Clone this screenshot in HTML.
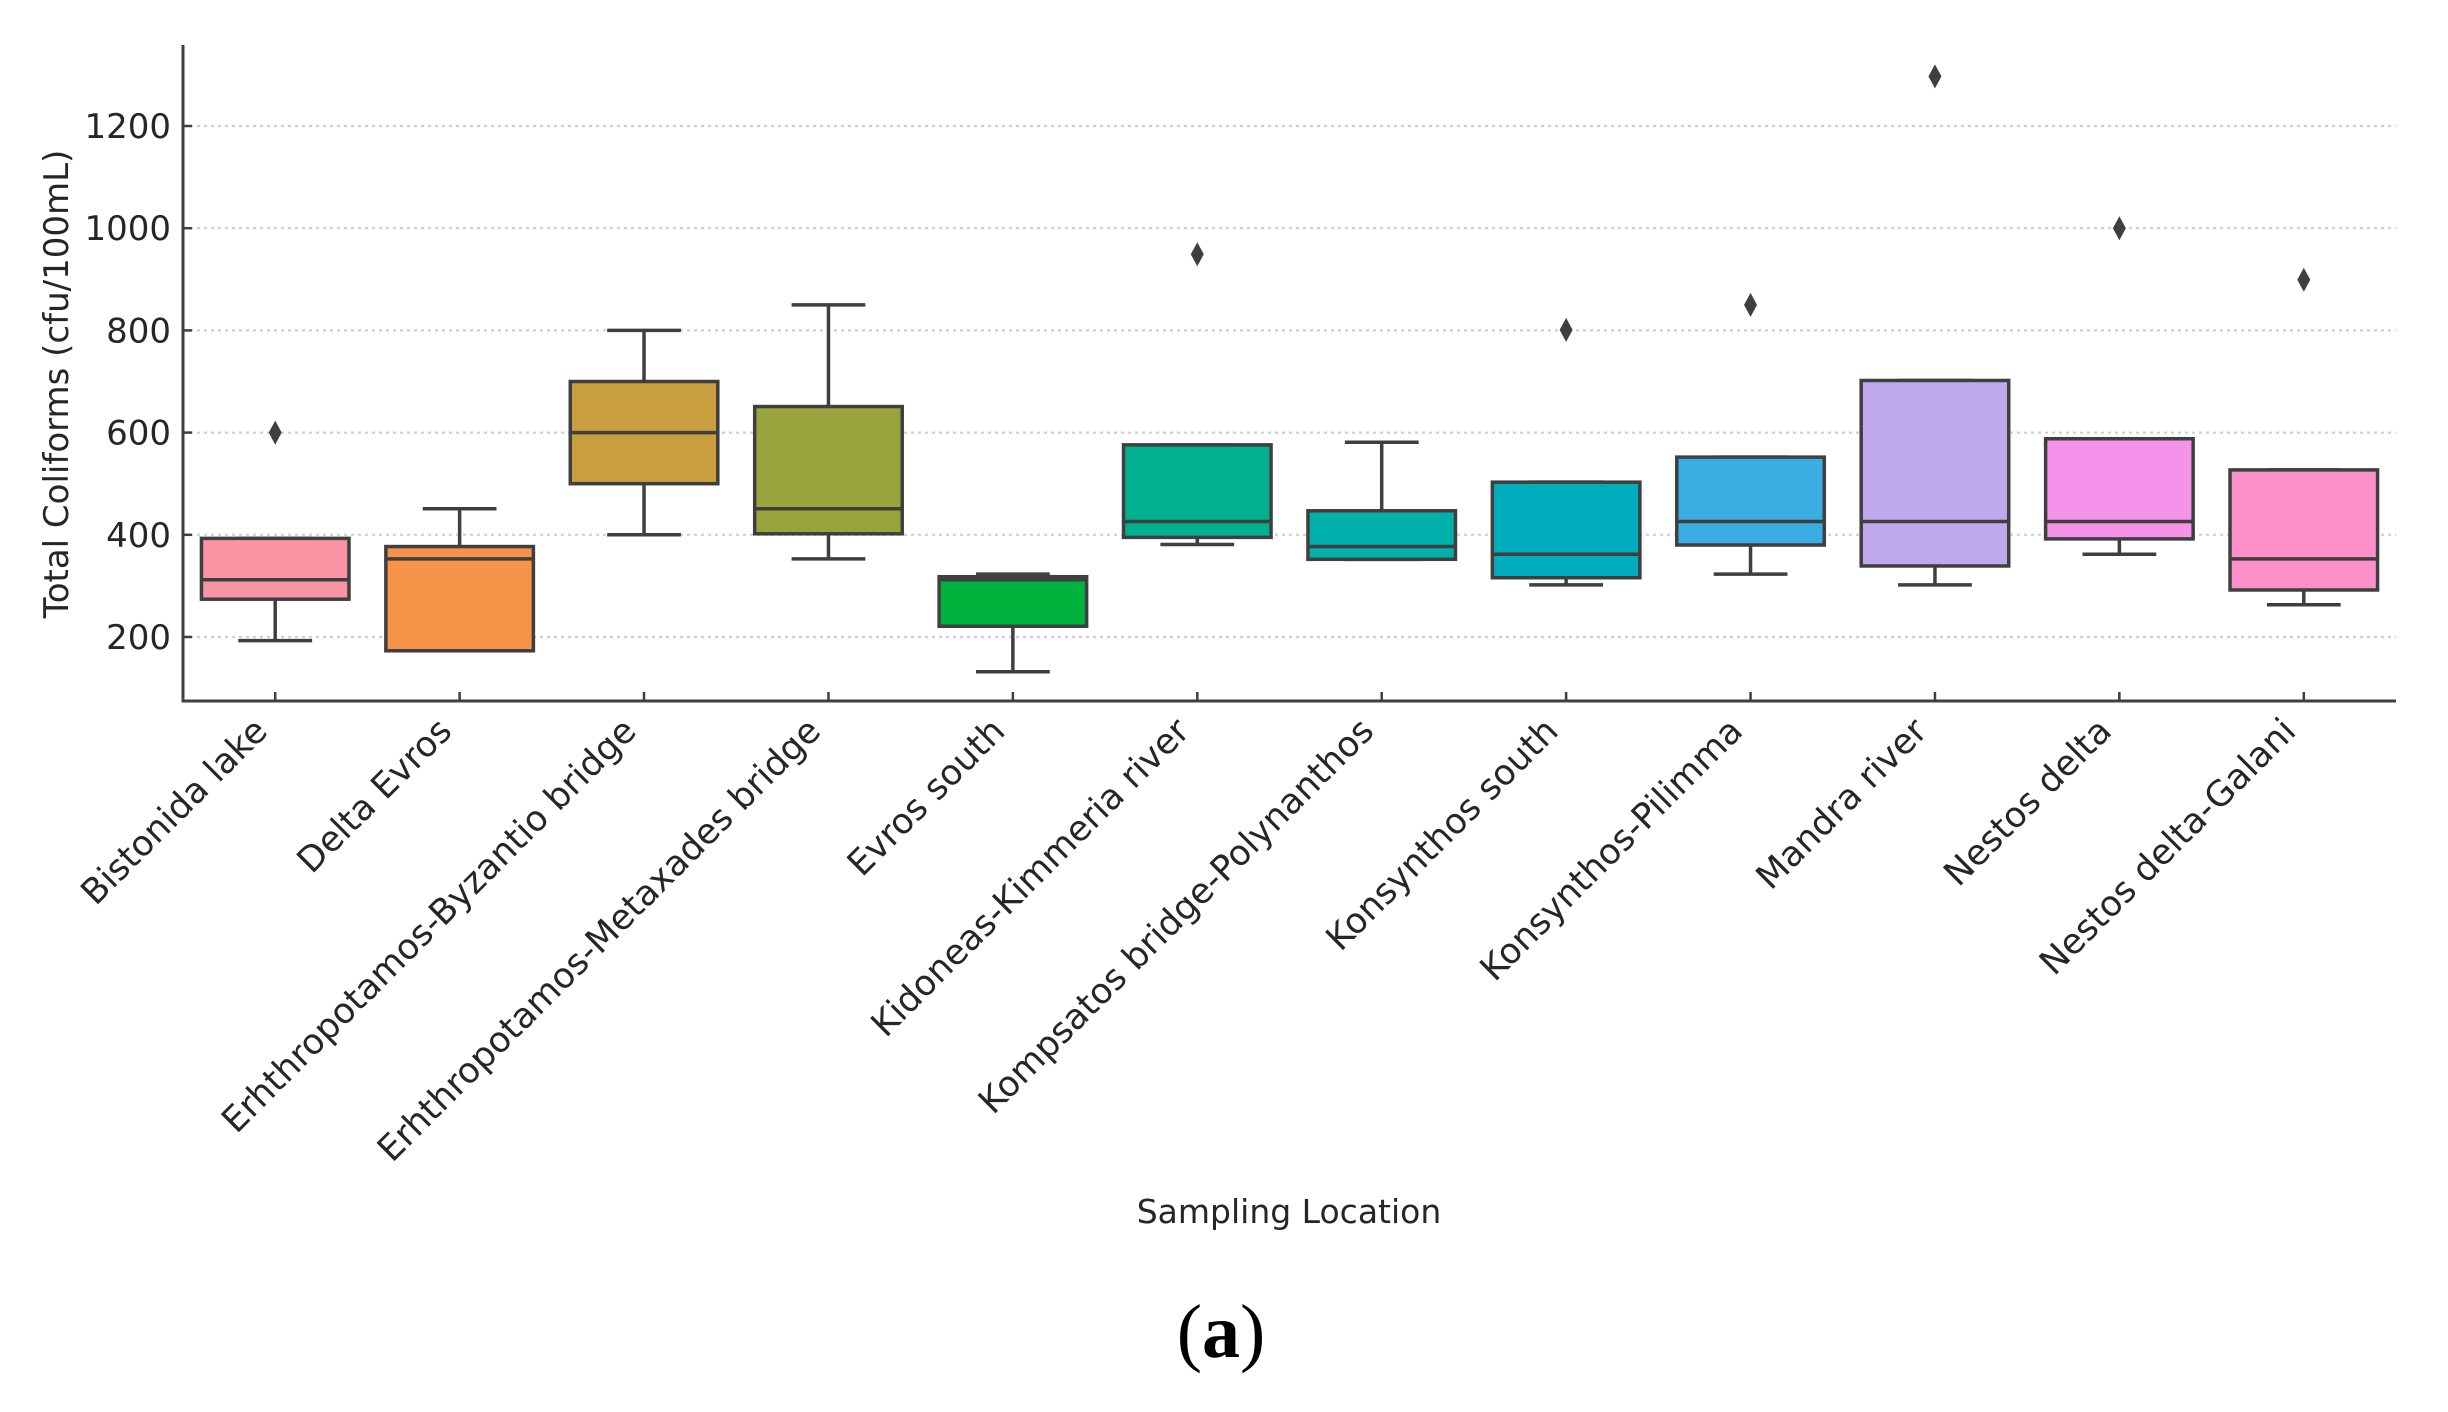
<!DOCTYPE html>
<html><head><meta charset="utf-8"><style>
html,body{margin:0;padding:0;background:#fff;}
svg{display:block;}
text{font-family:"DejaVu Sans","Liberation Sans",sans-serif;fill:#262626;}
</style></head><body>
<svg id="chart" width="2448" height="1412" viewBox="0 0 2448 1412" xmlns="http://www.w3.org/2000/svg">
<rect width="2448" height="1412" fill="#fff"/>
<g id="grid"></g><g id="boxes"></g><g id="axes"></g>
<text x="1289" y="1223" font-size="33" text-anchor="middle">Sampling Location</text>
<text transform="translate(68,384) rotate(-90)" font-size="34" text-anchor="middle">Total Coliforms (cfu/100mL)</text>
<text x="1221" y="1357" font-size="76" text-anchor="middle" style="font-family:'Liberation Serif',serif;fill:#000">(<tspan font-weight="bold">a</tspan>)</text>
</svg>
<script>
const categories=["Bistonida lake","Delta Evros","Erhthropotamos-Byzantio bridge","Erhthropotamos-Metaxades bridge","Evros south","Kidoneas-Kimmeria river","Kompsatos bridge-Polynanthos","Konsynthos south","Konsynthos-Pilimma","Mandra river","Nestos delta","Nestos delta-Galani"];
const whiskLow=[193,173,400,353,132,381,352,302,323,302,362,263];
const q1=[274,173,500,402,221,395,352,316,380,339,392,292];
const median=[312,353,600,451,312,426,377,362,426,426,426,353];
const q3=[393,377,700,651,318,576,447,503,552,702,588,527];
const whiskHigh=[393,451,800,850,323,576,581,503,552,702,588,527];
const outliers=[[600],[],[],[],[],[949],[],[801],[850],[1297],[1000],[899]];
const colors=["#f994a4","#f79249","#c89e3e","#99a53c","#00b33c","#00b08f","#00b1ab","#00adbf","#3aaee3","#c0a8ee","#f592ea","#fb90c8"];
const yTicks=[200,400,600,800,1000,1200];

const NS="http://www.w3.org/2000/svg";
const X0=183,X1=2396,YTOP=45,YBOT=701;
const step=(X1-X0)/categories.length;
function xs(i){return X0+step*(i+0.5);}
function ys(v){return 637-(v-200)*(511/1000);}
function mk(tag,attrs,parent){const e=document.createElementNS(NS,tag);for(const k in attrs)e.setAttribute(k,attrs[k]);parent.appendChild(e);return e;}
const grid=document.getElementById('grid'),boxes=document.getElementById('boxes'),axes=document.getElementById('axes');
const LC="#3f3f3f";
yTicks.forEach(v=>{
  const l=mk('line',{x1:X0,x2:X1,y1:ys(v),y2:ys(v),stroke:'#cfcfcf','stroke-width':2.2,'stroke-dasharray':'3,4'},grid);
  
  
  const t=mk('line',{x1:X0,x2:X0+9,y1:ys(v),y2:ys(v),stroke:LC,'stroke-width':2.5},axes);
  
  
  const tx=mk('text',{x:171,y:ys(v)+12,'font-size':34,'text-anchor':'end'},axes);
  tx.textContent=v;
  
  
});
const bw=step*0.8,cw=step*0.4;
categories.forEach((c,i)=>{
  const cx=xs(i);
  const g=mk('g',{},boxes);
  
  
  mk('line',{x1:cx,x2:cx,y1:ys(whiskLow[i]),y2:ys(q1[i]),stroke:LC,'stroke-width':3.5},g);
  mk('line',{x1:cx,x2:cx,y1:ys(whiskHigh[i]),y2:ys(q3[i]),stroke:LC,'stroke-width':3.5},g);
  mk('line',{x1:cx-cw/2,x2:cx+cw/2,y1:ys(whiskLow[i]),y2:ys(whiskLow[i]),stroke:LC,'stroke-width':3.5},g);
  mk('line',{x1:cx-cw/2,x2:cx+cw/2,y1:ys(whiskHigh[i]),y2:ys(whiskHigh[i]),stroke:LC,'stroke-width':3.5},g);
  mk('rect',{x:cx-bw/2,y:ys(q3[i]),width:bw,height:Math.max(1,ys(q1[i])-ys(q3[i])),fill:colors[i],stroke:LC,'stroke-width':3.5},g);
  mk('line',{x1:cx-bw/2,x2:cx+bw/2,y1:ys(median[i]),y2:ys(median[i]),stroke:LC,'stroke-width':3.5},g);
  outliers[i].forEach(v=>{
    const y=ys(v);
    const p=mk('polygon',{points:`${cx},${y-12} ${cx+6.5},${y} ${cx},${y+12} ${cx-6.5},${y}`,fill:LC},g);
    
    
  });
  const t=mk('line',{x1:cx,x2:cx,y1:YBOT,y2:YBOT-9,stroke:LC,'stroke-width':2.5},axes);
  
  
  const tx=mk('text',{x:cx-6,y:733,'font-size':35,'text-anchor':'end',transform:`rotate(-45 ${cx-6} 733)`},axes);
  tx.textContent=c;
  
  
});
const ya=mk('line',{x1:X0,x2:X0,y1:YTOP,y2:YBOT+1.5,stroke:LC,'stroke-width':3},axes);


const xa=mk('line',{x1:X0-1.5,x2:X1,y1:YBOT,y2:YBOT,stroke:LC,'stroke-width':3},axes);


</script>
</body></html>
